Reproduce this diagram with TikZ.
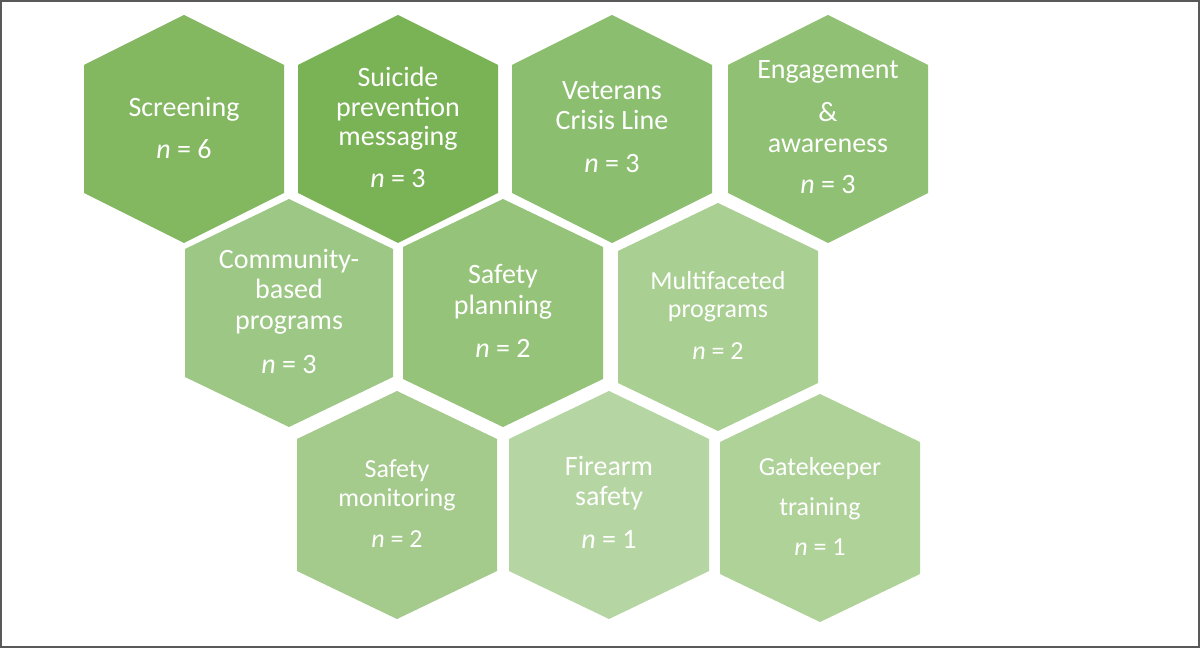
\documentclass[tikz,border=0pt]{standalone}
\usepackage{fontspec}
\setmainfont{Carlito}
\definecolor{cScr}{RGB}{131,183,96}
\definecolor{cSui}{RGB}{122,178,86}
\definecolor{cVet}{RGB}{139,190,111}
\definecolor{cEng}{RGB}{143,192,115}
\definecolor{cCom}{RGB}{157,199,132}
\definecolor{cPla}{RGB}{150,195,122}
\definecolor{cMul}{RGB}{169,207,146}
\definecolor{cMon}{RGB}{164,202,140}
\definecolor{cFir}{RGB}{181,213,162}
\definecolor{cGat}{RGB}{175,210,153}
\definecolor{frame}{RGB}{89,89,89}
\newcommand\hexagonat[6]{% name, cx, cy, half width, half side, colour
  \fill[#6] ({#2-#4},{#3-#5}) -- (#2,{#3-114}) -- ({#2+#4},{#3-#5}) -- ({#2+#4},{#3+#5}) -- (#2,{#3+114}) -- ({#2-#4},{#3+#5}) -- cycle;
  \coordinate (#1) at (#2,#3);}
\begin{document}
\begin{tikzpicture}[x=0.75pt,y=-0.75pt,
  lbl/.style={anchor=base, text=white, inner sep=0pt, font=\fontsize{21}{25}\selectfont},
  lbls/.style={lbl, font=\fontsize{19.5}{23}\selectfont}]
\useasboundingbox (0,0) rectangle (1200,648);
\fill[white] (0,0) rectangle (1200,648);
\draw[frame, line width=1.5pt] (1,1) rectangle (1199,647);

% row 1
\hexagonat{hScr}{184}{129}{100}{64}{cScr}
\hexagonat{hSui}{398}{129}{100}{64}{cSui}
\hexagonat{hVet}{612}{129}{100}{64}{cVet}
\hexagonat{hEng}{828}{129}{100}{64}{cEng}
% row 2
\hexagonat{hCom}{289}{313}{104}{64}{cCom}
\hexagonat{hPla}{503}{313}{100}{66}{cPla}
\hexagonat{hMul}{718}{317}{100}{66}{cMul}
% row 3
\hexagonat{hMon}{397}{505}{100}{66}{cMon}
\hexagonat{hFir}{609}{505}{100}{66}{cFir}
\hexagonat{hGat}{820}{508}{100}{66}{cGat}

% labels
\node[lbl] (tScrA) at (184,117) {Screening};
\node[lbl] (tScrB) at (184,159) {\textit{n} = 6};

\node[lbl] (tSuiA) at (398,87) {Suicide};
\node[lbl] (tSuiB) at (398,117) {prevention};
\node[lbl] (tSuiC) at (398,146) {messaging};
\node[lbl] (tSuiD) at (398,188) {\textit{n} = 3};

\node[lbl] (tVetA) at (612,100) {Veterans};
\node[lbl] (tVetB) at (612,130) {Crisis Line};
\node[lbl] (tVetC) at (612,173) {\textit{n} = 3};

\node[lbl] (tEngA) at (828,79) {Engagement};
\node[lbl] (tEngB) at (828,122) {\&};
\node[lbl] (tEngC) at (828,153) {awareness};
\node[lbl] (tEngD) at (828,194) {\textit{n} = 3};

\node[lbl] (tComA) at (289,269) {Community-};
\node[lbl] (tComB) at (289,299) {based};
\node[lbl] (tComC) at (289,330) {programs};
\node[lbl] (tComD) at (289,374) {\textit{n} = 3};

\node[lbl] (tPlaA) at (503,284) {Safety};
\node[lbl] (tPlaB) at (503,315) {planning};
\node[lbl] (tPlaC) at (503,358) {\textit{n} = 2};

\node[lbls] (tMulA) at (718,290) {Multifaceted};
\node[lbls] (tMulB) at (718,318) {programs};
\node[lbls] (tMulC) at (718,360) {\textit{n} = 2};

\node[lbls] (tMonA) at (397,478) {Safety};
\node[lbls] (tMonB) at (397,507) {monitoring};
\node[lbls] (tMonC) at (397,547) {\textit{n} = 2};

\node[lbl] (tFirA) at (609,476) {Firearm};
\node[lbl] (tFirB) at (609,506) {safety};
\node[lbl] (tFirC) at (609,548) {\textit{n} = 1};

\node[lbls] (tGatA) at (820,476) {Gatekeeper};
\node[lbls] (tGatB) at (820,515) {training};
\node[lbls] (tGatC) at (820,555) {\textit{n} = 1};
\end{tikzpicture}
\end{document}
